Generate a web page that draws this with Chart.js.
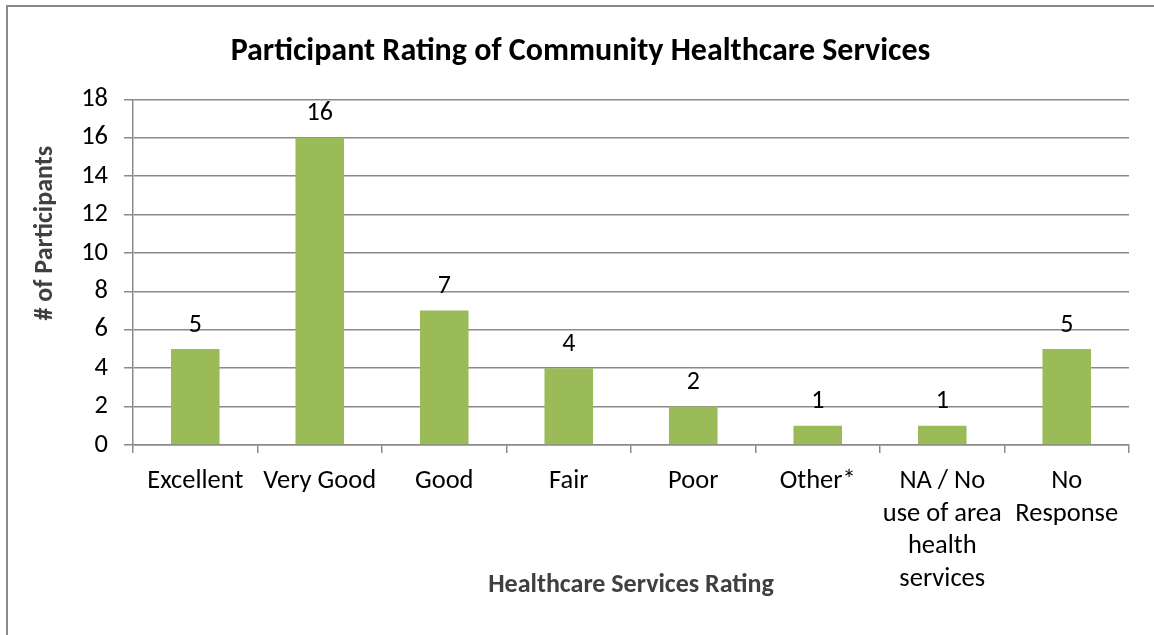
<!DOCTYPE html>
<html>
<head>
<meta charset="utf-8">
<script src="https://cdn.jsdelivr.net/npm/chart.js"></script>
<style>
  body { margin: 0; background: #fff; overflow: hidden; }
  #frame { position: absolute; left: 6px; top: 5px; width: 1200px; height: 700px; border: 2px solid #8a8a8a; }
  #wrap { position: absolute; left: 0; top: 0; width: 1154px; height: 635px; }
</style>
</head>
<body>
<div id="frame"></div>
<div id="wrap"><canvas id="canvas"></canvas></div>

<script>
  var categories = ['Excellent', 'Very Good', 'Good', 'Fair', 'Poor', 'Other*',
                    ['NA / No', 'use of area', 'health', 'services'], ['No', 'Response']];
  var participants = [5, 16, 7, 4, 2, 1, 1, 5];
  var yTicks = [0, 2, 4, 6, 8, 10, 12, 14, 16, 18];

  var chartTitle = 'Participant Rating of Community Healthcare Services';
  var yTitle = '# of Participants';
  var xTitle = 'Healthcare Services Rating';

  var fontName = 'Carlito, "Open Sans", sans-serif';
  var gridGray = '#8a8a8a';

  // numbers over each bar
  var barLabels = {
    id: 'barLabels',
    afterDatasetsDraw(chart) {
      var ctx = chart.ctx;
      ctx.save();
      ctx.font = '26px ' + fontName;
      ctx.fillStyle = '#000';
      ctx.textAlign = 'center';
      ctx.textBaseline = 'middle';
      chart.getDatasetMeta(0).data.forEach(function (bar, i) {
        ctx.fillText(String(participants[i]), bar.x, bar.y - 24);
      });
      ctx.restore();
    }
  };

  // rotated y-axis caption, sits a bit above the middle of the plot
  var yCaption = {
    id: 'yCaption',
    afterDraw(chart) {
      var ctx = chart.ctx;
      var area = chart.chartArea;
      ctx.save();
      ctx.translate(45, (area.top + area.bottom) / 2 - 39);
      ctx.rotate(-Math.PI / 2);
      ctx.font = 'bold 26px ' + fontName;
      ctx.fillStyle = '#404040';
      ctx.textAlign = 'center';
      ctx.textBaseline = 'middle';
      ctx.fillText(yTitle, 0, 0);
      ctx.restore();
    }
  };

  var ctx = document.getElementById('canvas');
  window.myBar = new Chart(ctx, {
    type: 'bar',
    data: {
      labels: categories,
      datasets: [{
        data: participants,
        backgroundColor: '#9bbb59',
        barPercentage: 0.39,
        categoryPercentage: 1.0
      }]
    },
    options: {
      responsive: true,
      maintainAspectRatio: false,
      animation: false,
      // left padding + y axis width = 133, which also centres the title a bit right
      layout: { padding: { left: 32, right: 25, top: 0, bottom: 34 } },
      plugins: {
        legend: { display: false },
        tooltip: { enabled: false },
        title: {
          display: true,
          text: chartTitle,
          color: '#000',
          font: { family: fontName, size: 32, weight: 'bold', lineHeight: 1.2 },
          padding: { top: 33, bottom: 28 }
        }
      },
      scales: {
        x: {
          grid: { drawOnChartArea: false, color: gridGray, lineWidth: 1.5, tickLength: 8 },
          border: { color: gridGray, width: 1.5 },
          ticks: {
            color: '#000',
            font: { family: fontName, size: 26.5, lineHeight: 1.23 },
            padding: 12,
            maxRotation: 0,
            autoSkip: false
          },
          title: {
            display: true,
            text: xTitle,
            color: '#404040',
            font: { family: fontName, size: 26, weight: 'bold', lineHeight: 1.2 },
            padding: { top: 0, bottom: 0 }
          },
          afterFit(scale) { scale.height = 156; }
        },
        y: {
          min: 0,
          max: 18,
          afterBuildTicks(scale) { scale.ticks = yTicks.map(function (v) { return { value: v }; }); },
          grid: { color: gridGray, lineWidth: 1.5, tickLength: 9 },
          border: { color: gridGray, width: 1.5 },
          ticks: {
            color: '#000',
            font: { family: fontName, size: 26.5 },
            padding: 16
          },
          afterFit(scale) { scale.width = 101; }
        }
      }
    },
    plugins: [barLabels, yCaption]
  });
</script>
</body>
</html>
